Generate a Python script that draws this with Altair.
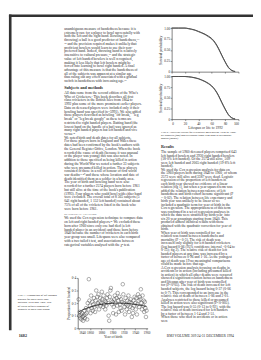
import textwrap
import altair as alt
import pandas as pd

# ---------------- data ----------------
years = list(range(1840, 1961))
prop_left = [
    0.23, 0.10, 0.13, 0.08, 0.11, 0.07, 0.12, 0.09, 0.06, 0.10,
    0.14, 0.08, 0.11, 0.16, 0.12, 0.07, 0.20, 0.15, 0.39, 0.22,
    0.18, 0.12, 0.26, 0.16, 0.21, 0.14, 0.19, 0.24, 0.17, 0.13,
    0.22, 0.30, 0.18, 0.25, 0.20, 0.27, 0.15, 0.21, 0.24, 0.18,
    0.20, 0.29, 0.23, 0.17, 0.26, 0.19, 0.22, 0.15, 0.21, 0.18,
    0.24, 0.27, 0.20, 0.10, 0.06, 0.25, 0.30, 0.32, 0.22, 0.19,
    0.21, 0.12, 0.17, 0.23, 0.26, 0.20, 0.11, 0.24, 0.18, 0.28,
    0.22, 0.13, 0.25, 0.19, 0.16, 0.23, 0.14, 0.21, 0.35, 0.27,
    0.20, 0.17, 0.11, 0.24, 0.19, 0.15, 0.22, 0.18, 0.26, 0.13,
    0.21, 0.17, 0.23, 0.20, 0.09, 0.16, 0.12, 0.22, 0.18, 0.25,
    0.20, 0.15, 0.24, 0.11, 0.19, 0.27, 0.22, 0.17, 0.25, 0.23,
    0.31, 0.20, 0.15, 0.26, 0.18, 0.22, 0.13, 0.21, 0.16, 0.09,
    0.14,
]
fit_years = [1840, 1850, 1860, 1870, 1880, 1890, 1900, 1910, 1920, 1930, 1940, 1950, 1960]
fit_vals = [0.13, 0.152, 0.168, 0.181, 0.19, 0.196, 0.199, 0.2, 0.199, 0.196, 0.19, 0.183, 0.174]

ages = [0, 10, 20, 25, 30, 35, 40, 45, 50, 55, 60, 65, 70, 75, 80, 85, 90, 95]
surv_all_right = [1, 1, 1, 0.99, 0.975, 0.955, 0.925, 0.895, 0.86, 0.815, 0.76, 0.67, 0.54, 0.38, 0.23, 0.10, 0.03, 0.004]
surv_all_left = [1, 1, 1, 0.985, 0.97, 0.95, 0.918, 0.885, 0.85, 0.80, 0.745, 0.655, 0.525, 0.37, 0.22, 0.09, 0.025, 0.003]
surv_excl_right = [1, 1, 1, 0.995, 0.985, 0.97, 0.95, 0.92, 0.885, 0.84, 0.78, 0.69, 0.56, 0.395, 0.24, 0.105, 0.03, 0.004]
surv_excl_left = [1, 1, 1, 0.993, 0.982, 0.966, 0.945, 0.913, 0.877, 0.83, 0.768, 0.677, 0.548, 0.385, 0.232, 0.1, 0.027, 0.003]

# ---------------- text ----------------
col1_intro = ("unambiguous measure of handedness because it is extremely rare for a player to bowl "
              "successfully with both the left and the right hand. Bowling (or throwing) a ball is a good "
              "predictor of handedness,¹⁴ ¹⁵ and the precision required makes it unlikely that proficient "
              "bowlers would learn to use their non-preferred hand. Indeed, throwing hand is relatively "
              "insensitive to cultural pressure,¹⁶ and the strategic value of left handed bowlers is well "
              "recognised, making it less likely that left bowlers might be forced into learning to bowl "
              "right handed. A final advantage of this measure is that the handedness of all of the subjects "
              "was apparent at a similar age, thus ruling out any effect associated with a gradual switch in "
              "handedness with increasing age.¹⁷")
methods_heading = "Subjects and methods"
methods_paras = [
    ("All data came from the second edition of the Who's Who of Cricketers.¹ This book describes all "
     "first class cricketers in the British Isles from 1864 to 1992 plus some of the more prominent "
     "earlier players. Data on deceased players were included only if their bowling hand was specified "
     "(n=5991). We also added those players described as bowling \"off break,\" \"leg break\" or \"leg "
     "break googly\" as these terms are restricted to right handed players. Batting hand (the lowest hand "
     "on the handle of a bat) was ignored as many right handed players bat left handed and vice versa.¹⁸"),
    ("We noted birth and death dates for all subjects. For those players born in England and Wales these "
     "dates had been confirmed by the book's authors with the General Register Office, London. When the "
     "book recorded the cause of death (because it was unusual or the player was young) this was also "
     "noted. In addition to those specified as being killed in action during the World War we noted a "
     "further 33 subjects who were presumed killed in action. These players consisted of those in a roll "
     "of honour of first world war deaths¹⁹ ²⁰ and those whose location and date of death identified "
     "them as a soldier in a battle area."),
    ("The year of birth and bowling hand were also recorded for a further 2574 players born before 1961 "
     "but still alive at the time of the book's publication (1993). Four players who could bowl with "
     "either hand were excluded. The overall total of 8 565 subjects (5 041 right handed, 1 152 left "
     "handed) contained about 75% of all of the cricketers listed in the book who were born before 1961."),
]
stats_heading = "STATISTICAL ANALYSIS"
stats_paras = [
    ("We used the Cox regression technique to compare data on left and right handed players.²¹ We "
     "excluded those born after 1960 since only one had died (a left handed player in an accident) and "
     "those born before 1840 because the number of cricketers in each birth year group was small. "
     "Lifespans were also compared with a two tailed t test, and associations between categorical "
     "variables analysed with the χ² test."),
]
fig2_caption = ("FIG 2—Survival curves for cricketers born during 1840 to 1960: all subjects (top) and "
                "excluding those who died in accidental deaths (below)")
results_heading = "Results"
results_paras = [
    ("The sample of 5960 deceased players comprised 643 left handed bowlers and 2930 right handed "
     "bowlers (18·0% left handed). Of the 2574 still alive, 509 were left handed and 2065 right "
     "handed (19·8% left handed)."),
    ("We used the Cox regression analysis for data on the 5960 players born during 1840 to 1960, of "
     "whom 2573 were still alive and 3387 were dead. Logistic regression of the proportion of left "
     "handers in each birth year showed no evidence of a linear relation (fig 1), but when a year "
     "squared term was added the relation between prevalence of left handedness and birth cohort "
     "became significant (P = 0·02). The relation between life expectancy and birth year was unlikely "
     "to be linear so we included a quadratic term for year of birth in the Cox regression. The "
     "appropriateness of this term was confirmed in a set of regression analyses in which the data "
     "were stratified by birth year, into six 20 year groupings starting from 1840. This produced "
     "almost identical results with those obtained with the quadratic correction for year of birth."),
    ("When year of birth was controlled for, no relation was found between handedness and mortality "
     "(P = 0·3). The risk of death was increased only slightly for left handed cricketers (log hazard "
     "0·06 (95% confidence interval −0·04 to 0·15); fig 2). The relative risk of death for left handed "
     "players at any time was increased by a factor of between 0·96 and 1·16. As the youngest age of "
     "death was 19 no meaningful comparisons could be made before that age."),
    ("A Cox regression analysis focusing on deaths in accidents or in action (including presumed "
     "killed in action) in which all other deaths were censored showed a significant relation between "
     "handedness and lifespan after year of birth was controlled for (P<0·05). The risk of death "
     "increased for left handed subjects, the log hazard being 0·37 (0·06 to 0·7). This corresponded "
     "to an increase in the relative risk of death of between 1·06 and 2·01. Analyses restricted to "
     "those killed or presumed killed in action were also significant (P<0·005). The log hazard was "
     "0·55 (0·13 to 0·92), with the relative risk of death increased for left handers by a factor of "
     "between 1·14 and 2·51."),
    "When those who died in accidents or in action were",
]
fig1_caption_lines = [
    "FIG 1—Proportion of left handed",
    "players for each birth year",
    "between 1840 and 1960. Size",
    "of circle reflects number of",
    "subjects in each year group",
]
page_number = "1682"
footer_text = "BMJ   VOLUME 309     24-31 DECEMBER 1994"

# ---------------- layout (page pixels) ----------------
W, H = 253, 352
M = 8
FONT = "Liberation Serif"
INK = "#2a2a2a"
BODY = 3.7


def flow(blocks, x0, y0, width, lh):
    rows = []
    y = y0
    for kind, text in blocks:
        if kind == "head":
            y += lh * 0.9
            rows.append(dict(line=text, px=x0, py=y - 0.6, kind="head"))
            y += lh * 1.25
        elif kind == "caps":
            y += lh * 0.6
            rows.append(dict(line=text, px=x0, py=y, kind="caps"))
            y += lh * 1.05
        else:
            ind = "   " if kind == "para" else ""
            for ln in textwrap.wrap(text, width, initial_indent=ind):
                rows.append(dict(line=ln, px=x0, py=y, kind="body"))
                y += lh
    return rows


col1_blocks = [("cont", col1_intro), ("head", methods_heading)]
col1_blocks += [("cont", methods_paras[0])] + [("para", p) for p in methods_paras[1:]]
col1_blocks += [("caps", stats_heading)] + [("cont", stats_paras[0])]
rows = flow(col1_blocks, 66, 22, 53, 3.85)

col2_blocks = [("head", results_heading), ("cont", results_paras[0])] + [("para", p) for p in results_paras[1:]]
rows += flow(col2_blocks, 166, 141.5, 50, 3.62)

for i, ln in enumerate(textwrap.wrap(fig2_caption, 64)):
    rows.append(dict(line=ln, px=166, py=129 + i * 3.2, kind="cap"))
for i, ln in enumerate(fig1_caption_lines):
    rows.append(dict(line=ln, px=18, py=298 + i * 3.6, kind="cap"))
rows.append(dict(line=page_number, px=19, py=339.5, kind="head"))
rows.append(dict(line=footer_text, px=172, py=339.5, kind="body"))

text_df = pd.DataFrame(rows)

PX = alt.Scale(domain=[M, M + W], range=[0, W], nice=False, zero=False)
PY = alt.Scale(domain=[M, M + H], range=[0, H], nice=False, zero=False)


def text_layer(kind, size, weight="normal", style="normal"):
    return alt.Chart(text_df).transform_filter(alt.datum.kind == kind).mark_text(
        align="left", baseline="top", font=FONT, fontSize=size, fontWeight=weight,
        fontStyle=style, color=INK
    ).encode(
        x=alt.X("px:Q", scale=PX, axis=None),
        y=alt.Y("py:Q", scale=PY, axis=None),
        text="line:N",
    )


dummy = pd.DataFrame({"k": [0]})
border_top = alt.Chart(dummy).mark_rule(color="#333333", strokeWidth=2.7).encode(
    x=alt.value(9 - M), x2=alt.value(W), y=alt.value(10.3 - M))
border_left = alt.Chart(dummy).mark_rule(color="#333333", strokeWidth=2.7).encode(
    x=alt.value(10.3 - M), y=alt.value(9 - M), y2=alt.value(335 - M))


def axis_common(**kw):
    base = dict(labelFont=FONT, titleFont=FONT, labelFontSize=3.5, titleFontSize=3.8,
                titleFontWeight="normal", labelColor=INK, titleColor=INK, domainColor=INK,
                tickColor=INK, domainWidth=0.6, tickWidth=0.5, tickSize=1.5, labelPadding=0.6,
                titlePadding=0.8, grid=False)
    base.update(kw)
    return alt.Axis(**base)


# ---- Fig 1 scatter ----
sc_df = pd.DataFrame({"year": years, "prop": prop_left})
fit_df = pd.DataFrame({"year": fit_years, "prop": fit_vals})
SX = alt.Scale(domain=[1838.3, 1962], range=[80 - M, 152.2 - M], nice=False, zero=False)
SY = alt.Scale(domain=[0, 0.4], range=[333 - M, 281 - M], nice=False, zero=False)

scatter = alt.Chart(sc_df).mark_point(shape="circle", filled=False, size=14, strokeWidth=0.4,
                                      color="#333333", opacity=1).encode(
    x=alt.X("year:Q", scale=SX, axis=axis_common(
        values=list(range(1840, 1961, 20)), format="d", title="Year of birth",
        orient="bottom", offset=333 - (M + H))),
    y=alt.Y("prop:Q", scale=SY, axis=axis_common(
        values=[0, 0.1, 0.2, 0.3, 0.4],
        labelExpr="datum.value == 0 ? '0' : replace(format(datum.value, '.1f'), '.', '·')",
        title="Proportion left handed", orient="left", offset=-(80 - M))),
)
fit = alt.Chart(fit_df).mark_line(color="#1a1a1a", strokeWidth=0.8, interpolate="monotone").encode(
    x=alt.X("year:Q", scale=SX, axis=None),
    y=alt.Y("prop:Q", scale=SY, axis=None),
)


# ---- Fig 2 survival curves ----
def surv_panel(right, left, y_bottom, y_top, show_labels):
    df = pd.DataFrame({
        "age": ages * 2,
        "surv": right + left,
        "hand": ["Right handed"] * len(ages) + ["Left handed"] * len(ages),
    })
    xs = alt.Scale(domain=[0, 100], range=[177 - M, 246 - M], nice=False, zero=False)
    ys = alt.Scale(domain=[0, 1], range=[y_bottom - M, y_top - M], nice=False, zero=False)
    xkw = dict(values=[0, 20, 40, 60, 80, 100], format="d", orient="bottom",
               offset=y_bottom - (M + H))
    if show_labels:
        xkw["title"] = "Lifespan or life to 1992"
    else:
        xkw["labels"] = False
        xkw["title"] = ""
    return alt.Chart(df).mark_line(strokeWidth=0.8, interpolate="monotone").encode(
        x=alt.X("age:Q", scale=xs, axis=axis_common(**xkw)),
        y=alt.Y("surv:Q", scale=ys, axis=axis_common(
            values=[0, 0.25, 0.5, 0.75, 1],
            labelExpr="datum.value == 0 ? '0' : format(datum.value, '.2f')",
            title="Survival probability", orient="left", offset=-(177 - M))),
        color=alt.Color("hand:N", scale=alt.Scale(range=["#555555", "#111111"]), legend=None),
    )


surv_top = surv_panel(surv_all_right, surv_all_left, 68, 23, False)
surv_bottom = surv_panel(surv_excl_right, surv_excl_left, 117, 73, True)

layers = [
    border_top, border_left,
    text_layer("body", BODY),
    text_layer("head", 4.3, weight="bold"),
    text_layer("caps", 3.0),
    text_layer("cap", 3.0, style="italic"),
    scatter, fit, surv_top, surv_bottom,
]

chart = alt.layer(*layers).resolve_scale(
    x="independent", y="independent", color="independent"
).properties(
    width=W, height=H, autosize=alt.AutoSizeParams(type="none"), padding=0,
    background="white",
).configure_view(stroke=None)

chart.save("out.html", embed_options={"renderer": "svg", "actions": False})
